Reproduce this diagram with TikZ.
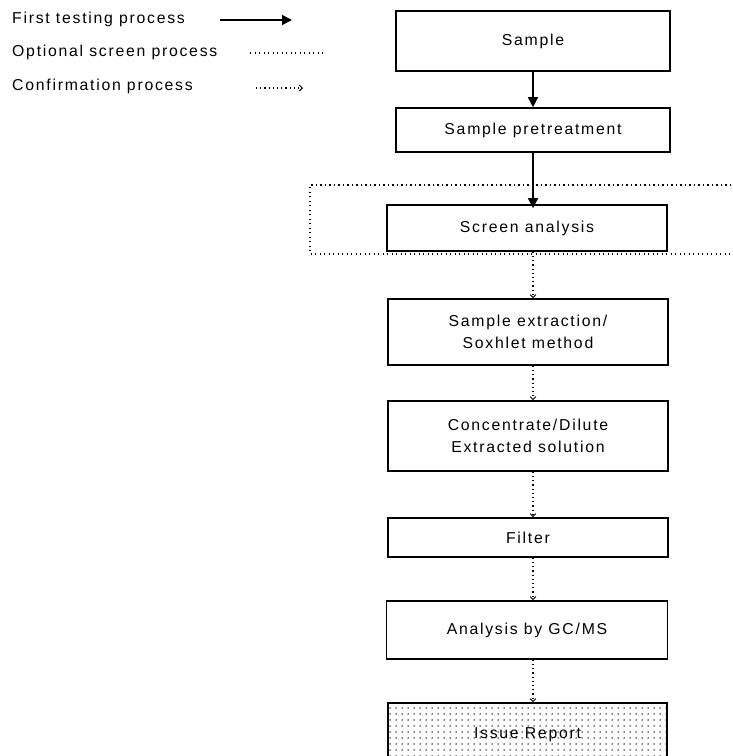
\documentclass[tikz,border=0pt]{standalone}
\usepackage{fontspec}
\setmainfont[LetterSpace=11]{Liberation Sans}
\usetikzlibrary{arrows.meta,patterns.meta}
\begin{document}
\begin{tikzpicture}[x=1pt,y=-1pt,
  box/.style={draw=black,line width=1.6pt,minimum width=#1,inner sep=0pt,align=center,font=\fontsize{15.8}{22}\selectfont},
  legtext/.style={anchor=west,inner sep=0pt,font=\fontsize{15.8}{18}\selectfont},
  solidarrow/.style={line width=1.5pt,-{Triangle[length=10pt,width=10pt]}},
  confarrow/.style={line width=1.2pt,dash pattern=on 1.2pt off 3pt,-{Straight Barb[length=3pt,width=6pt,line width=0.9pt]}},
  screenline/.style={line width=1.2pt,dash pattern=on 1.3pt off 3.2pt}]
\clip (0,0) rectangle (732,756);
\fill[white] (0,0) rectangle (732,756);
% legend
\node[legtext] (l1) at (12,19) {First testing process};
\node[legtext] (l2) at (12,52) {Optional screen process};
\node[legtext] (l3) at (12,86) {Confirmation process};
\coordinate (l1a) at (220,20); \coordinate (l1b) at (292,20);
\coordinate (l2a) at (250,53); \coordinate (l2b) at (323,53);
\coordinate (l3a) at (256,88); \coordinate (l3b) at (303,88);
\draw[solidarrow] (l1a) -- (l1b);
\draw[screenline] (l2a) -- (l2b);
\draw[confarrow] (l3a) -- (l3b);
% boxes
\node[box=274pt,minimum height=60pt] (sample) at (533,41) {Sample};
\node[box=274pt,minimum height=44pt] (pre) at (533,130) {Sample pretreatment};
\node[box=280pt,minimum height=46pt] (screen) at (527,228) {Screen analysis};
\node[box=280pt,minimum height=66pt] (extr) at (528,332) {Sample extraction/\\Soxhlet method};
\node[box=280pt,minimum height=70pt] (conc) at (528,436) {Concentrate/Dilute\\Extracted solution};
\node[box=280pt,minimum height=39pt] (filter) at (528,537.5) {Filter};
\node[box=281pt,minimum height=58pt] (gcms) at (527,630) {Analysis by GC/MS};
\node[box=279pt,minimum height=64pt,pattern={Dots[distance=6pt,radius=0.75pt]}] (report) at (527.5,735) {Issue Report};
% optional screen region
\coordinate (s1) at (740,185); \coordinate (s2) at (310,185);
\coordinate (s3) at (310,254); \coordinate (s4) at (740,254);
\draw[screenline] (s1) -- (s2) -- (s3) -- (s4);
% connectors
\draw[solidarrow] (sample.south -| 533,0) -- (pre.north -| 533,0);
\draw[solidarrow] (pre.south -| 533,0) -- ([yshift=-4pt]screen.north -| 533,0);
\draw[confarrow] (screen.south -| 533,0) -- (extr.north -| 533,0);
\draw[confarrow] (extr.south -| 533,0) -- (conc.north -| 533,0);
\draw[confarrow] (conc.south -| 533,0) -- (filter.north -| 533,0);
\draw[confarrow] (filter.south -| 533,0) -- (gcms.north -| 533,0);
\draw[confarrow] (gcms.south -| 533,0) -- (report.north -| 533,0);
\end{tikzpicture}
\end{document}
